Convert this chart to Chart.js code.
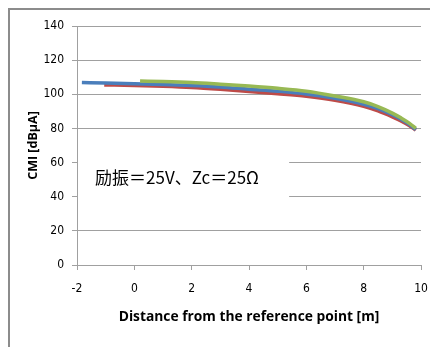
<!DOCTYPE html>
<html>
<head>
<meta charset="utf-8">
<script src="https://cdn.jsdelivr.net/npm/chart.js@4.4.1/dist/chart.umd.min.js"></script>
<style>
  html, body { margin: 0; padding: 0; background: #fff; }
  #cmiChart { display: block; }
</style>
</head>
<body>
<canvas id="cmiChart" width="430" height="347"></canvas>
<script>
// CMI along the line, three measurement runs
const blueX = [-1.83, -1, 0, 1, 2, 3, 4, 5, 6, 7, 8, 8.5, 9, 9.3, 9.6, 9.82];
const blueY = [106.9, 106.6, 106.2, 105.8, 105.2, 104.3, 103.0, 101.8, 100.2, 97.7, 94.2, 91.6, 88.0, 85.4, 82.3, 79.3];

const redX = [-1.05, 0, 1, 2, 3, 4, 5, 6, 7, 8, 8.5, 9, 9.3, 9.6, 9.82];
const redY = [105.5, 105.2, 104.7, 104.0, 102.9, 101.6, 100.3, 98.8, 96.5, 93.0, 90.3, 86.8, 84.4, 81.6, 79.0];

const greenX = [0.2, 1, 2, 3, 4, 5, 6, 7, 8, 8.5, 9, 9.3, 9.6, 9.82];
const greenY = [107.8, 107.5, 106.9, 105.9, 104.8, 103.5, 101.8, 99.0, 95.6, 92.8, 89.0, 86.2, 83.0, 80.0];

const xTicks = [-2, 0, 2, 4, 6, 8, 10];
const yTicks = [0, 20, 40, 60, 80, 100, 120, 140];

const noteText = '励振＝25V、Zc＝25Ω';

function toPoints(xs, ys) {
  return xs.map((x, i) => ({ x: x, y: ys[i] }));
}

// grey frame on the left and top edges
const framePlugin = {
  id: 'frame',
  beforeDraw(chart) {
    const c = chart.ctx;
    c.save();
    c.strokeStyle = '#8c8c8c';
    c.lineWidth = 2;
    c.beginPath();
    c.moveTo(9, chart.height);
    c.lineTo(9, 9);
    c.lineTo(chart.width, 9);
    c.stroke();
    c.restore();
  }
};

// white text box with the excitation condition
const notePlugin = {
  id: 'note',
  afterDatasetsDraw(chart) {
    const c = chart.ctx;
    const xs = chart.scales.x;
    const ys = chart.scales.y;
    const left = xs.getPixelForValue(-2) + 1;
    const right = xs.getPixelForValue(5.4);
    const top = ys.getPixelForValue(70);
    const bottom = ys.getPixelForValue(30);
    c.save();
    c.fillStyle = '#ffffff';
    c.fillRect(left, top, right - left, bottom - top);
    c.fillStyle = '#000000';
    c.font = '17px "Noto Sans CJK JP", sans-serif';
    c.textBaseline = 'middle';
    c.fillText(noteText, xs.getPixelForValue(-1.37), ys.getPixelForValue(51));
    c.restore();
  }
};

const tickFont = { family: '"Liberation Sans Narrow", "DejaVu Sans Condensed", sans-serif', size: 12 };
const titleFont = { family: '"Open Sans", sans-serif', size: 13.8, weight: 'bold' };

new Chart(document.getElementById('cmiChart').getContext('2d'), {
  type: 'scatter',
  data: {
    datasets: [
      {
        data: toPoints(greenX, greenY),
        borderColor: '#98b954',
        showLine: true,
        borderWidth: 3.5,
        pointRadius: 0,
        cubicInterpolationMode: 'monotone'
      },
      {
        data: toPoints(blueX, blueY),
        borderColor: '#4a7ebb',
        showLine: true,
        borderWidth: 3.5,
        pointRadius: 0,
        cubicInterpolationMode: 'monotone'
      },
      {
        data: toPoints(redX, redY),
        borderColor: '#be4b48',
        showLine: true,
        borderWidth: 3.5,
        pointRadius: 0,
        cubicInterpolationMode: 'monotone'
      }
    ]
  },
  options: {
    responsive: false,
    animation: false,
    layout: { padding: { left: 0, right: 9, top: 26, bottom: 0 } },
    plugins: {
      legend: { display: false },
      tooltip: { enabled: false }
    },
    scales: {
      x: {
        type: 'linear',
        min: xTicks[0],
        max: xTicks[xTicks.length - 1],
        afterBuildTicks(axis) {
          axis.ticks = xTicks.map(v => ({ value: v }));
        },
        afterFit(axis) {
          axis.height = 82;
          axis.paddingLeft = 0;
          axis.paddingRight = 0;
        },
        ticks: { color: '#000', font: tickFont, padding: 12, maxRotation: 0 },
        grid: { drawOnChartArea: false, drawTicks: true, tickLength: 5, color: '#a0a0a0' },
        border: { display: true, color: '#a0a0a0' },
        title: {
          display: true,
          text: 'Distance from the reference point [m]',
          color: '#000',
          font: titleFont,
          padding: { top: 0, bottom: 22 }
        }
      },
      y: {
        type: 'linear',
        min: yTicks[0],
        max: yTicks[yTicks.length - 1],
        afterBuildTicks(axis) {
          axis.ticks = yTicks.map(v => ({ value: v }));
        },
        afterFit(axis) {
          axis.width = 77;
        },
        ticks: { color: '#000', font: tickFont, padding: 8 },
        grid: { color: '#a0a0a0', tickLength: 5 },
        border: { display: true, color: '#a0a0a0' },
        title: {
          display: true,
          text: 'CMI [dBμA]',
          color: '#000',
          font: { family: '"Open Sans", sans-serif', size: 12.5, weight: 'bold' },
          padding: { top: 26, bottom: 0 }
        }
      }
    }
  },
  plugins: [framePlugin, notePlugin]
});
</script>
</body>
</html>
